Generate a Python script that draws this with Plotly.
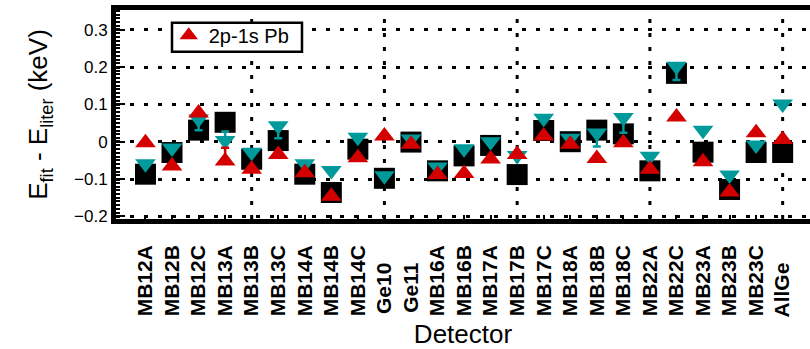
import plotly.graph_objects as go

# Detector names along the x axis
detectors = ["MB12A", "MB12B", "MB12C", "MB13A", "MB13B", "MB13C", "MB14A", "MB14B",
             "MB14C", "Ge10", "Ge11", "MB16A", "MB16B", "MB17A", "MB17B", "MB17C",
             "MB18A", "MB18B", "MB18C", "MB22A", "MB22C", "MB23A", "MB23B", "MB23C", "AllGe"]

# E_fit - E_liter (keV), black squares
square_vals = [-0.087, -0.029, 0.031, 0.052, -0.047, 0.003, -0.087, -0.136,
               -0.020, -0.098, -0.001, -0.078, -0.038, -0.010, -0.088, 0.030,
               0.000, 0.031, 0.021, -0.078, 0.183, -0.028, -0.128, -0.029, -0.029]

# E_fit - E_liter (keV), teal down-triangles
teal_vals = [-0.059, -0.017, 0.061, 0.003, -0.028, 0.043, -0.059, -0.077,
             0.012, -0.091, 0.007, -0.068, -0.019, 0.000, -0.037, 0.063,
             0.009, 0.023, 0.065, -0.039, 0.202, 0.031, -0.089, -0.009, 0.101]
teal_err_up = [0, 0, 0, 0.024, 0, 0, 0, 0, 0, 0, 0, 0, 0, 0, 0, 0,
               0, 0, 0, 0, 0, 0, 0, 0, 0]
teal_err_down = [0, 0, 0.030, 0, 0, 0.034, 0, 0, 0, 0, 0, 0, 0, 0, 0, 0,
                 0, 0.036, 0.041, 0, 0.037, 0, 0, 0, 0]

# 2p-1s Pb line, red up-triangles
red_vals = [-0.003, -0.065, 0.077, -0.052, -0.074, -0.034, -0.083, -0.146,
            -0.043, 0.015, -0.007, -0.088, -0.085, -0.046, -0.034, 0.015,
            -0.007, -0.045, -0.003, -0.074, 0.066, -0.054, -0.135, 0.024, 0.006]
red_err_up = [0, 0, 0, 0.036, 0, 0, 0, 0, 0, 0, 0, 0, 0, 0, 0, 0,
              0, 0, 0, 0, 0, 0, 0, 0, 0]
red_err_down = [0] * len(detectors)

y_tick_vals = [-0.2, -0.1, 0, 0.1, 0.2, 0.3]
y_tick_text = ["\u22120.2", "\u22120.1", "0", "0.1", "0.2", "0.3"]
x_grid = [5, 10, 15, 20, 25]

positions = list(range(1, len(detectors) + 1))
# short names are padded so every label starts at the same baseline
pad_names = {"Ge10", "Ge11", "AllGe"}
tick_text = [d + "\u00a0" * 3 if d in pad_names else d for d in detectors]

RED = "#d40000"
TEAL = "#009a9a"
FONT = "Liberation Sans, Arial, sans-serif"
DOTS = "4px,10px"

fig = go.Figure()
fig.add_trace(go.Scatter(
    x=positions, y=square_vals, mode="markers", showlegend=False,
    marker=dict(symbol="square", size=21, color="black", line=dict(width=0))))
fig.add_trace(go.Scatter(
    x=positions, y=teal_vals, mode="markers", showlegend=False,
    marker=dict(symbol="triangle-down", size=18, color=TEAL, line=dict(width=0)),
    error_y=dict(type="data", symmetric=False, array=teal_err_up,
                 arrayminus=teal_err_down, color=TEAL, thickness=2.5, width=4)))
fig.add_trace(go.Scatter(
    x=positions, y=red_vals, mode="markers", name="2p-1s Pb",
    marker=dict(symbol="triangle-up", size=18, color=RED, line=dict(width=0)),
    error_y=dict(type="data", symmetric=False, array=red_err_up,
                 arrayminus=red_err_down, color=RED, thickness=2.5, width=4)))

# dotted vertical grid every fifth detector
for g in x_grid:
    fig.add_shape(type="line", xref="x", yref="paper", x0=g, x1=g, y0=0, y1=1,
                  layer="below", line=dict(color="black", width=3, dash=DOTS))

# framed box behind the legend entry
fig.add_shape(type="rect", xref="paper", yref="paper",
              x0=0.0807, x1=0.268, y0=0.800, y1=0.939, layer="above",
              fillcolor="white", line=dict(color="black", width=2.5))

fig.update_layout(
    width=810, height=349,
    margin=dict(l=116, r=0, t=10, b=130),
    paper_bgcolor="white", plot_bgcolor="white",
    font=dict(family=FONT, color="black"),
    legend=dict(x=0.076, y=0.972, xanchor="left", yanchor="top",
                bgcolor="rgba(0,0,0,0)", borderwidth=0,
                font=dict(size=20, family=FONT)),
    xaxis=dict(
        range=[-0.11, 26.03], tickmode="array", tickvals=positions, ticktext=tick_text,
        tickangle=-90, tickfont=dict(size=21, family=FONT, weight="bold"),
        ticks="inside", ticklen=4, tickwidth=2, tickcolor="black",
        showline=True, linewidth=4.5, linecolor="black", mirror=True,
        showgrid=False, zeroline=False, automargin=False,
        ticklabelstandoff=13,
        title=dict(text="Detector", font=dict(size=26, family=FONT), standoff=10)),
    yaxis=dict(
        range=[-0.207, 0.3527], tickmode="array", tickvals=y_tick_vals, ticktext=y_tick_text,
        tickfont=dict(size=17, family=FONT),
        ticks="inside", ticklen=9, tickwidth=2, tickcolor="black",
        minor=dict(tickmode="linear", tick0=0, dtick=0.01, ticks="inside",
                   ticklen=4, tickwidth=1.5, tickcolor="black", showgrid=False),
        showline=True, linewidth=5, linecolor="black", mirror=False,
        showgrid=True, gridcolor="black", gridwidth=3, griddash=DOTS,
        zeroline=False, automargin=False, ticklabelstandoff=0,
        title=dict(text="E<sub>fit</sub> - E<sub>liter</sub> (keV)",
                   font=dict(size=26, family=FONT), standoff=20)),
)

fig.write_html("out.html")
